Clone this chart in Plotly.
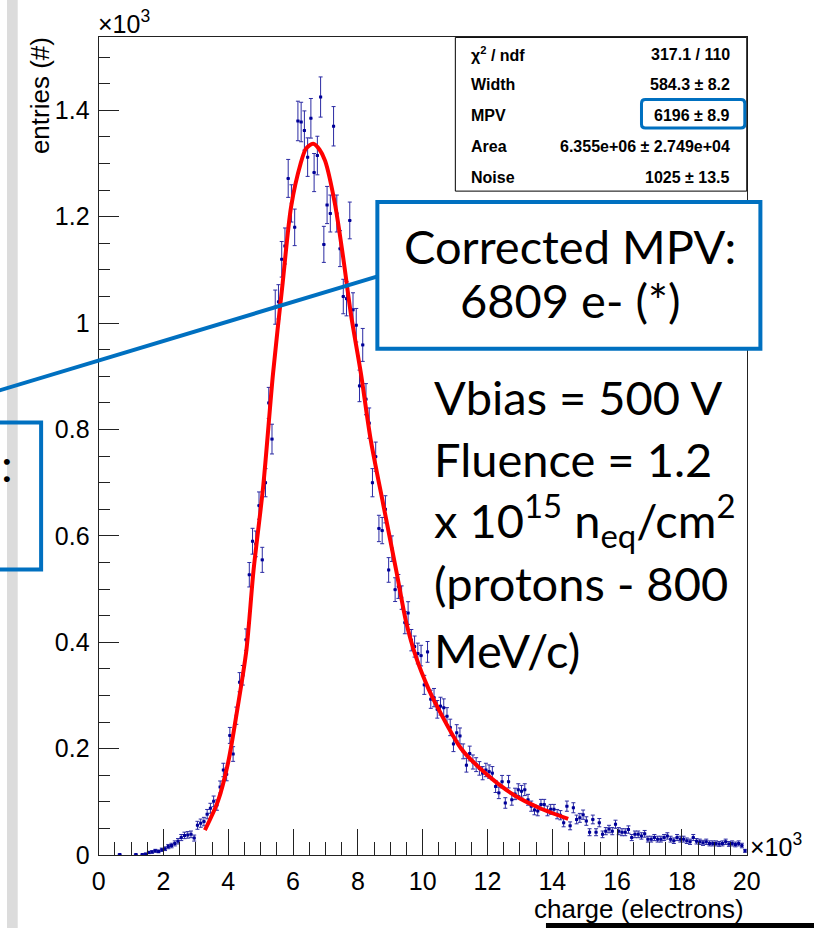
import numpy as np
import plotly.graph_objects as go

# ---------------- data ----------------
bin_width = 100
bin_centers = np.arange(50, 20000, bin_width)  # electrons
counts = [
    None, None, None, None, None, None, 1, None, None, None,
    None, 1, None, 1, 2, 5, 6, 8, 7, 10,
    12, 16, 18, 22, 26, 33, 37, 38, 39, 32,
    56, 60, 63, 77, 88, 101, 94, 128, 160, 152,
    225, 190, 262, 325, 338, 405, 527, 590, 585, 657,
    555, 700, 850, 782, 1030, 1040, 1120, 1145, 1272, 1225,
    1180, 1380, 1378, 1362, 1312, 1385, 1283, 1315, 1425, 1148,
    1222, 1206, 1370, 1206, 1140, 1050, 1046, 1193, 1025, 996,
    882, 959, 857, 812, 700, 749, 614, 610, 650, 536,
    576, 499, 505, 484, 437, 455, 404, 392, 379, 375,
    320, 382, 293, 296, 274, 280, 277, 261, 240, 209,
    230, 224, 195, 169, 191, 175, 170, 163, 154, 160,
    157, 154, 129, 117, 138, 98, 138, 104, 115, 123,
    120, 123, 104, 92, 85, 83, 95, 95, 83, 86,
    86, 77, 75, 61, 92, 55, 89, 67, 70, 76,
    64, 43, 67, 43, 61, 39, 45, 49, 45, 58,
    45, 43, 43, 48, 33, 39, 39, 36, 40, 30,
    30, 33, 30, 30, 33, 36, 30, 27, 33, 30,
    30, 27, 25, 33, 26, 25, 23, 25, 22, 22,
    22, 21, 22, 25, 21, 22, 20, 22, 18, 8,
]

fit_x = [3280, 3680, 4000, 4280, 4560, 4780, 5080, 5380, 5680, 5940, 6230, 6400,
         6620, 6820, 6990, 7290, 7540, 7790, 8090, 8390, 8790, 9190, 9490, 9790,
         10190, 10390, 11190, 11990, 12790, 13590, 14490]
fit_y = [47, 101, 175, 274, 385, 535, 694, 904, 1076, 1219, 1299, 1328,
         1337, 1326, 1305, 1225, 1126, 1015, 907, 783, 657, 533, 438, 373,
         311, 286, 200, 151, 114, 89, 68]

x_tick_vals = [0, 2000, 4000, 6000, 8000, 10000, 12000, 14000, 16000, 18000, 20000]
x_tick_text = ["0", "2", "4", "6", "8", "10", "12", "14", "16", "18", "20"]
y_tick_vals = [0, 200, 400, 600, 800, 1000, 1200, 1400]
y_tick_text = ["0", "0.2", "0.4", "0.6", "0.8", "1", "1.2", "1.4"]

stat_labels = ["χ<sup>2</sup> / ndf", "Width", "MPV", "Area", "Noise"]
stat_values = ["317.1 / 110", "584.3 ± 8.2", "6196 ± 8.9",
               "6.355e+06 ± 2.749e+04", "1025 ± 13.5"]

info_lines = ["Vbias = 500 V", "Fluence = 1.2",
              "x 10<sup>15</sup> n<sub>eq</sub>/cm<sup>2</sup>",
              "(protons - 800", "MeV/c)"]

# ---------------- helpers (pixel -> paper) ----------------
W, H = 828, 942
def px(x):
    return x / W
def py(y):
    return 1 - y / H

BLUE = "#0070C0"
SANS = "Liberation Sans, Arial, sans-serif"
BIGF = "Lato, Carlito, Calibri, sans-serif"

cnt = np.array([np.nan if c is None else c for c in counts], dtype=float)
err = np.sqrt(cnt)

fig = go.Figure()

fig.add_trace(go.Scatter(
    x=bin_centers, y=cnt, mode="markers",
    marker=dict(symbol="square", size=3, color="#000099"),
    error_y=dict(type="data", array=err, visible=True, color="#2b2ba3",
                 thickness=1, width=2),
    error_x=dict(type="constant", value=bin_width / 2, visible=True,
                 color="#2b2ba3", thickness=1, width=0),
    showlegend=False, hoverinfo="skip",
))

fig.add_trace(go.Scatter(
    x=fit_x, y=fit_y, mode="lines",
    line=dict(color="#ff0000", width=4, shape="spline", smoothing=0.8),
    showlegend=False, hoverinfo="skip",
))

fig.update_layout(
    width=W, height=H,
    margin=dict(l=0, r=0, t=0, b=0),
    paper_bgcolor="white", plot_bgcolor="white",
    xaxis=dict(
        domain=[px(94), px(759)], range=[0, 20000],
        tickvals=x_tick_vals, ticktext=x_tick_text,
        ticks="inside", ticklen=26, tickwidth=1, tickcolor="#222",
        minor=dict(dtick=500, ticks="inside", ticklen=13, tickwidth=1, tickcolor="#222"),
        showline=True, linecolor="#222", linewidth=1, mirror=True,
        showgrid=False, zeroline=False,
        tickfont=dict(family=SANS, size=25, color="black"),
        ticklabelstandoff=4,
    ),
    yaxis=dict(
        domain=[py(868), py(38)], range=[0, 1537],
        tickvals=y_tick_vals, ticktext=y_tick_text,
        ticks="inside", ticklen=20, tickwidth=1, tickcolor="#222",
        minor=dict(dtick=50, ticks="inside", ticklen=11, tickwidth=1, tickcolor="#222"),
        showline=True, linecolor="#222", linewidth=1, mirror=True,
        showgrid=False, zeroline=False,
        tickfont=dict(family=SANS, size=25, color="black"),
        ticklabelstandoff=3,
    ),
)

shapes = []
# left textured strip
shapes.append(dict(type="rect", xref="paper", yref="paper", layer="below",
                   x0=px(0), x1=px(11), y0=py(0), y1=py(H),
                   fillcolor="#dcdcdc", line=dict(width=0)))
# connector line
shapes.append(dict(type="line", xref="paper", yref="paper",
                   x0=px(-10), y0=py(397), x1=px(382), y1=py(280),
                   line=dict(color=BLUE, width=4)))
# left partial box
shapes.append(dict(type="rect", xref="paper", yref="paper",
                   x0=px(-20), x1=px(35), y0=py(429), y1=py(578),
                   line=dict(color=BLUE, width=4)))
# corrected MPV box
shapes.append(dict(type="rect", xref="paper", yref="paper",
                   x0=px(380), x1=px(773), y0=py(205), y1=py(354),
                   fillcolor="white", line=dict(color=BLUE, width=4)))
# stats box
shapes.append(dict(type="rect", xref="paper", yref="paper",
                   x0=px(460), x1=px(759), y0=py(38), y1=py(194),
                   fillcolor="white", line=dict(color="black", width=1)))
# MPV highlight (rounded rect)
x0, x1, y0, y1, r = 651, 757, 101, 130, 4
path = (f"M {px(x0+r)},{py(y0)} L {px(x1-r)},{py(y0)} Q {px(x1)},{py(y0)} {px(x1)},{py(y0+r)} "
        f"L {px(x1)},{py(y1-r)} Q {px(x1)},{py(y1)} {px(x1-r)},{py(y1)} "
        f"L {px(x0+r)},{py(y1)} Q {px(x0)},{py(y1)} {px(x0)},{py(y1-r)} "
        f"L {px(x0)},{py(y0+r)} Q {px(x0)},{py(y0)} {px(x0+r)},{py(y0)} Z")
shapes.append(dict(type="path", xref="paper", yref="paper", path=path,
                   line=dict(color=BLUE, width=3)))
# bottom black bar
shapes.append(dict(type="rect", xref="paper", yref="paper",
                   x0=px(553), x1=px(828), y0=py(942), y1=py(937),
                   fillcolor="black", line=dict(width=0)))
fig.update_layout(shapes=shapes)

ann = []
def A(text, x, y, xa="left", ya="middle", size=22, family=SANS, angle=0, color="black"):
    ann.append(dict(text=text, x=px(x), y=py(y), xref="paper", yref="paper",
                    xanchor=xa, yanchor=ya, showarrow=False, textangle=angle,
                    font=dict(family=family, size=size, color=color)))

# axis multipliers and titles
A("×10<sup>3</sup>", 91, 41, xa="left", ya="bottom", size=25)
A("×10<sup>3</sup>", 760, 876, xa="left", ya="bottom", size=25)
A("charge (electrons)", 758, 923, xa="right", ya="middle", size=26)
A("entries (#)", 34, 36, xa="center", ya="top", size=26, angle=-90)

# stats box
row_y = [55, 86, 117, 149, 180]
for lab, val, yy in zip(stat_labels, stat_values, row_y):
    A(f"<b>{lab}</b>", 474, yy, xa="left", size=16)
    A(f"<b>{val}</b>", 744, yy, xa="right", size=16)

# corrected MPV text
A("Corrected MPV:", 578, 250, xa="center", size=47, family=BIGF)
A("6809 e- (*)", 578, 305, xa="center", size=47, family=BIGF)

# info lines
info_y = [403, 466, 528, 592, 660]
for t, yy in zip(info_lines, info_y):
    A(t, 436, yy, xa="left", size=47, family=BIGF)

# partial colon on the far left
A(":", 0, 471, xa="center", size=47, family=BIGF)

fig.update_layout(annotations=ann)

fig.write_html("out.html")
